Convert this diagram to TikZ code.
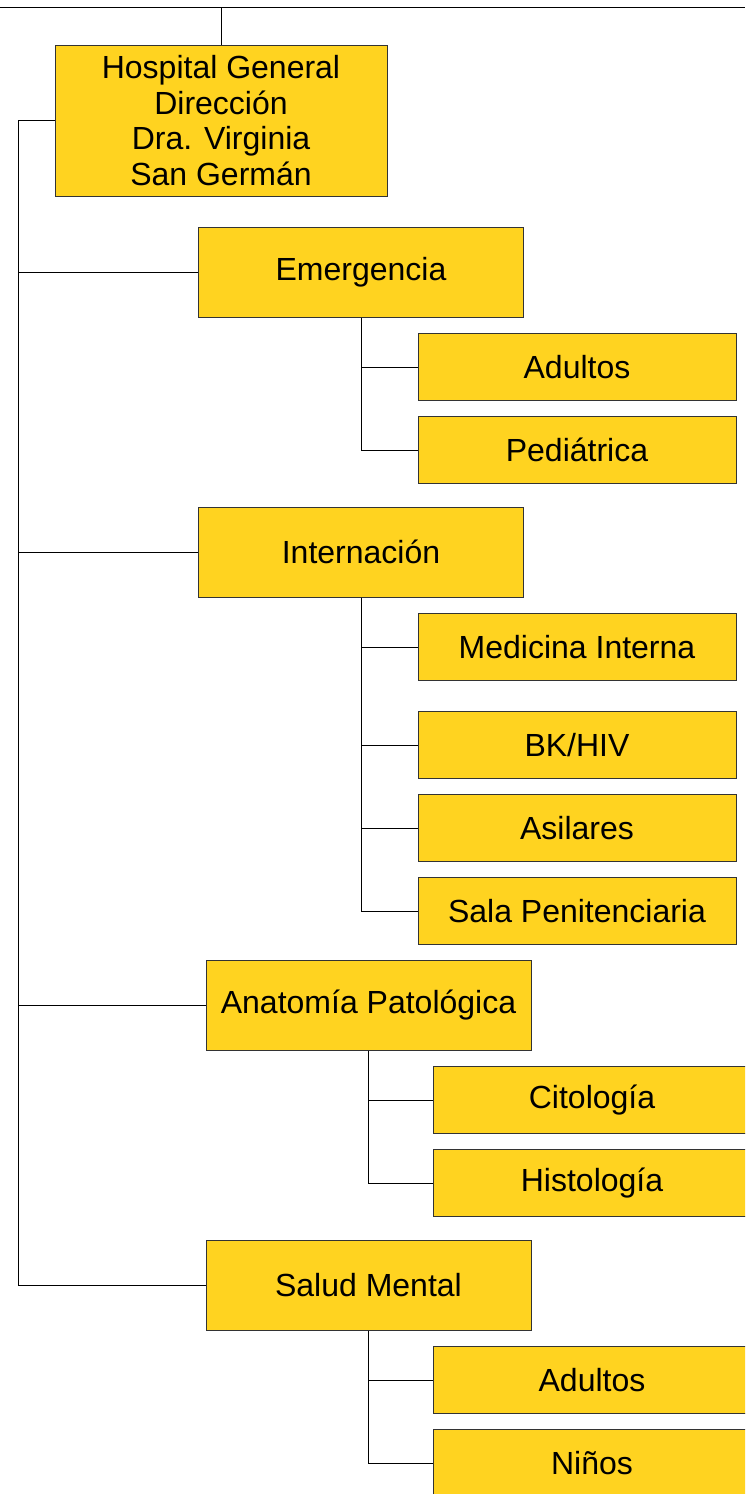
\documentclass[tikz,border=0pt]{standalone}
\usepackage{fontspec}
\setmainfont{Liberation Sans}
\definecolor{boxyellow}{HTML}{FFD320}
\tikzset{
  unit/.style={draw=black!80,fill=boxyellow,line width=1pt,align=center,
    font=\fontsize{32}{35.5}\selectfont,inner sep=0pt},
  head/.style={unit,minimum width=332pt,minimum height=151pt},
  dept/.style={unit,minimum width=325pt,minimum height=90pt},
  sub/.style={unit,minimum width=318pt,minimum height=67pt},
  link/.style={line width=1pt,black}
}
\begin{document}
\begin{tikzpicture}[x=1pt,y=-1pt]
        \path[use as bounding box,clip] (0,0) rectangle (745,1494);

        \node[head] (root) at (221,120.5) {Hospital General\\Dirección\\Dra. Virginia\\San Germán};

        \node[dept] (emer) at (361,272) {Emergencia};
        \node[sub] (emad) at (577,367) {Adultos};
        \node[sub] (emped) at (577,450) {Pediátrica};

        \node[dept] (inter) at (361,552) {Internación};
        \node[sub] (medint) at (577,647) {Medicina Interna};
        \node[sub] (bkhiv) at (577,745) {BK/HIV};
        \node[sub] (asil) at (577,828) {Asilares};
        \node[sub] (sala) at (577,911) {Sala Penitenciaria};

        \node[dept] (anat) at (368.5,1005) {Anatomía Patológica};
        \node[sub] (cito) at (592,1100) {Citología};
        \node[sub] (histo) at (592,1183) {Histología};

        \node[dept] (salud) at (368.5,1285) {Salud Mental};
        \node[sub] (smad) at (592,1380) {Adultos};
        \node[sub] (ninos) at (592,1463) {Niños};

        % top line and spine
        \coordinate (topl) at (0,7);
        \coordinate (topr) at (745,7);
        \coordinate (spine) at (18,120.5);
        \draw[link] (topl) -- (topr);
        \draw[link] (root.north) -- (root.north |- topl);
        \draw[link] (root.west) -- (spine) |- (salud.west);
        \draw[link] (spine) |- (emer.west);
        \draw[link] (spine) |- (inter.west);
        \draw[link] (spine) |- (anat.west);

        % sub units
        \draw[link] (emer.south) |- (emad.west);
        \draw[link] (emer.south) |- (emped.west);
        \draw[link] (inter.south) |- (medint.west);
        \draw[link] (inter.south) |- (bkhiv.west);
        \draw[link] (inter.south) |- (asil.west);
        \draw[link] (inter.south) |- (sala.west);
        \draw[link] (anat.south) |- (cito.west);
        \draw[link] (anat.south) |- (histo.west);
        \draw[link] (salud.south) |- (smad.west);
        \draw[link] (salud.south) |- (ninos.west);
      \end{tikzpicture}
\end{document}
